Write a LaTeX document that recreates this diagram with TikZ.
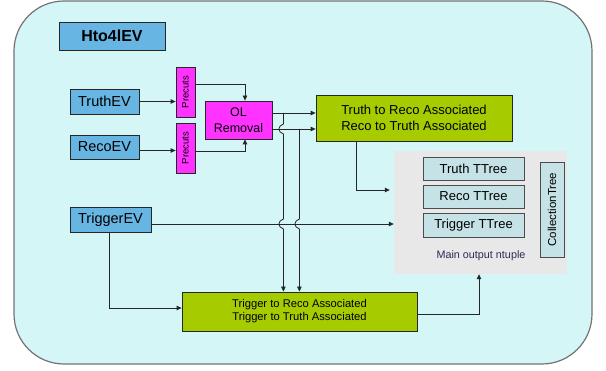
\documentclass[tikz,border=0pt]{standalone}
\usepackage{fontspec}
\setmainfont{Liberation Sans}
\usepackage{graphicx}
\usetikzlibrary{arrows.meta,calc}
\definecolor{bgcyan}{HTML}{D4F6F7}
\definecolor{evblue}{HTML}{66B5E3}
\definecolor{magbox}{HTML}{FF33FF}
\definecolor{limebox}{HTML}{A6CC00}
\definecolor{tbox}{HTML}{C5E2E6}
\definecolor{graybg}{HTML}{E8E8E8}
\definecolor{navytxt}{HTML}{2B2B55}
\begin{document}
\begin{tikzpicture}[x=1pt,y=-1pt,
  bx/.style={draw=black!85, line width=0.8pt, inner sep=0pt, align=center},
  evbox/.style={bx, fill=evblue, font=\fontsize{14.5}{17}\selectfont},
  prebox/.style={bx, fill=magbox, minimum width=19pt, minimum height=50pt, font=\fontsize{9.5}{10}\selectfont},
  ttbox/.style={bx, draw=black!70, fill=tbox, minimum width=101pt, font=\fontsize{13}{15}\selectfont},
  arr/.style={draw=black!85, line width=0.8pt, -{Triangle[length=5pt,width=4.5pt]}},
  ln/.style={draw=black!85, line width=0.8pt}]
\useasboundingbox (0,0) rectangle (606,371);
\draw[fill=bgcyan, draw=black!55, line width=1.2pt, rounded corners=50pt] (14,1) rectangle (592,364);

\node[bx, fill=evblue, minimum width=106pt, minimum height=28pt, font=\fontsize{16}{18}\selectfont\bfseries] (hto) at (112,36) {Hto4lEV};
\node[evbox, minimum width=69pt, minimum height=25pt] (truthev) at (104.5,101.5) {TruthEV};
\node[evbox, minimum width=69pt, minimum height=24pt] (recoev) at (104.5,147) {RecoEV};
\node[evbox, minimum width=81pt, minimum height=25pt] (trigev) at (110.5,219.5) {TriggerEV};

\node[prebox] (pre1) at (185.5,92) {\rotatebox{90}{Precuts}};
\node[prebox] (pre2) at (185.5,148) {\rotatebox{90}{Precuts}};
\node[bx, fill=magbox, minimum width=67pt, minimum height=38pt, font=\fontsize{12.5}{16}\selectfont] (ol) at (238.5,120) {OL\\Removal};

\node[bx, fill=limebox, minimum width=196pt, minimum height=46pt, font=\fontsize{13}{16}\selectfont] (tr) at (414,118) {Truth to Reco Associated\\Reco to Truth Associated};
\node[bx, fill=limebox, minimum width=235pt, minimum height=39pt, font=\fontsize{11.2}{13}\selectfont] (trg) at (299.5,311.5) {Trigger to Reco Associated\\Trigger to Truth Associated};

\node[fill=graybg, minimum width=173pt, minimum height=123pt, inner sep=0pt] (gray) at (480.5,212.5) {};
\node[ttbox, minimum height=23pt] (ttruth) at (473.5,168.5) {Truth TTree};
\node[ttbox, minimum height=23pt] (treco) at (473.5,196.5) {Reco TTree};
\node[ttbox, minimum height=24pt] (ttrig) at (473.5,225) {Trigger TTree};
\node[bx, draw=black!70, fill=tbox, minimum width=24pt, minimum height=95pt, font=\fontsize{11.5}{13}\selectfont] (coll) at (552,209.5) {\rotatebox{90}{CollectionTree}};
\node[text=navytxt, inner sep=0pt, font=\fontsize{10.8}{12}\selectfont] (mainlbl) at (481,256) {Main output ntuple};

% inputs to precuts
\draw[arr] (truthev.east) -- (truthev.east -| pre1.west);
\draw[arr] ([yshift=-3.5pt]recoev.east) -- ([yshift=-3.5pt]recoev.east -| pre2.west);
% precuts to OL
\draw[arr] ([yshift=8pt]pre1.east) -| ([xshift=6.5pt]ol.north);
\draw[arr] ([yshift=-3pt]pre2.east) -| ([xshift=6.5pt]ol.south);
% OL to association
\coordinate (a1) at ([yshift=7pt]ol.east);
\coordinate (a2) at ([yshift=-9pt]ol.east);
\draw[arr] (a1) -- (a1 -| tr.west);
\draw[arr] (a2) -- (a2 -| tr.west);
% trigger line
\coordinate (t1) at ([yshift=-4.5pt]trigev.east);
\draw[arr] (t1) -- (t1 -| gray.west);
% verticals with hops
\coordinate (v1) at ($(a1)+(11,0)$);
\coordinate (v2) at ($(a2)+(27,0)$);
\coordinate (h1) at (v1 |- a2);
\coordinate (h2) at (v1 |- t1);
\coordinate (h3) at (v2 |- t1);
\draw[arr] (v1) -- ($(h1)+(0,-5)$) .. controls ($(h1)+(-6,-3)$) and ($(h1)+(-6,3)$) .. ($(h1)+(0,5)$)
  -- ($(h2)+(0,-5)$) .. controls ($(h2)+(-6,-3)$) and ($(h2)+(-6,3)$) .. ($(h2)+(0,5)$)
  -- (v1 |- trg.north);
\draw[arr] (v2) -- ($(h3)+(0,-5)$) .. controls ($(h3)+(-6,-3)$) and ($(h3)+(-6,3)$) .. ($(h3)+(0,5)$)
  -- (v2 |- trg.north);
% association to output
\draw[arr] ([xshift=-58pt]tr.south) |- ([yshift=22.5pt,xshift=-4pt]gray.west);
\draw[arr] ([xshift=-1.5pt]trigev.south) |- ([yshift=3.5pt]trg.west);
\draw[arr] ([yshift=-2.5pt]trg.east) -| ([xshift=-1.5pt]gray.south);
\end{tikzpicture}
\end{document}
